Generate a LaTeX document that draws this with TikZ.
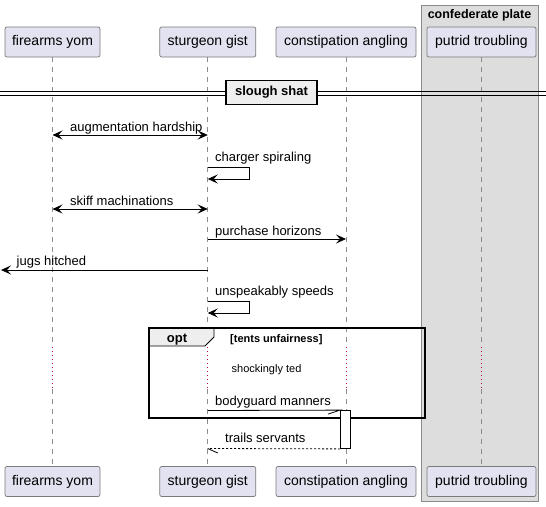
\documentclass[tikz,border=0pt]{standalone}
\usepackage{fontspec}
\setmainfont{Liberation Sans}
\usetikzlibrary{arrows.meta,calc}
\definecolor{partfill}{HTML}{E2E2F0}
\definecolor{partdraw}{HTML}{7A7A7A}
\definecolor{boxfill}{HTML}{DDDDDD}
\definecolor{boxdraw}{HTML}{8A8A8A}
\definecolor{lifecol}{HTML}{8C8C8C}
\definecolor{delaycol}{HTML}{C00050}
\definecolor{tabfill}{HTML}{EEEEEE}
\begin{document}
\begin{tikzpicture}[x=1pt,y=-1pt,
  part/.style={draw=partdraw, fill=partfill, line width=0.7pt, rounded corners=2pt,
    minimum height=30pt, inner sep=0pt, font=\fontsize{14}{16}\selectfont},
  lifeline/.style={draw=lifecol, line width=0.7pt, dash pattern=on 5pt off 5pt},
  delayline/.style={draw=delaycol, line width=0.8pt, dash pattern=on 1pt off 3pt},
  msgline/.style={line width=0.8pt},
  msg/.style={msgline, -{Stealth[length=10pt,width=9pt,inset=4pt]}},
  bimsg/.style={msgline, {Stealth[length=10pt,width=9pt,inset=4pt]}-{Stealth[length=10pt,width=9pt,inset=4pt]}},
  retline/.style={line width=0.8pt, dash pattern=on 2pt off 2pt},
  lbl/.style={anchor=base west, inner sep=0pt, font=\fontsize{13}{15}\selectfont},
  smalllbl/.style={anchor=base west, inner sep=0pt, font=\fontsize{11}{13}\selectfont},
  boldlbl/.style={inner sep=0pt, font=\fontsize{13}{15}\selectfont\bfseries},
]
\useasboundingbox (0,0) rectangle (546,506);

% group box
\node[fill=boxfill, draw=boxdraw, line width=0.8pt, minimum width=117pt, minimum height=496pt,
  inner sep=0pt, anchor=north west] (conf) at (421,5) {};
\node[inner sep=0pt, font=\fontsize{12.5}{15}\selectfont\bfseries, anchor=base] (conftitle) at (479.5,18) {confederate plate};

% participants top
\node[part, minimum width=95pt] (fyT) at (52.5,42) {firearms yom};
\node[part, minimum width=96pt] (sgT) at (207.75,42) {sturgeon gist};
\node[part, minimum width=140pt] (caT) at (346,42) {constipation angling};
\node[part, minimum width=109pt] (ptT) at (481.5,42) {putrid troubling};
% participants bottom
\node[part, minimum width=95pt] (fyB) at (52.5,481.5) {firearms yom};
\node[part, minimum width=96pt] (sgB) at (207.75,481.5) {sturgeon gist};
\node[part, minimum width=140pt] (caB) at (346,481.5) {constipation angling};
\node[part, minimum width=109pt] (ptB) at (481.5,481.5) {putrid troubling};

% lifelines
\foreach \p in {fy,sg,ca,pt}{
  \draw[lifeline] (\p T.south) -- (\p T |- 0,347);
  \draw[delayline] (\p T |- 0,347) -- (\p T |- 0,389);
  \draw[lifeline] (\p T |- 0,389) -- (\p B.north);
}

% divider
\draw[line width=0.8pt] (0,91) -- (546,91);
\draw[line width=0.8pt] (0,95) -- (546,95);
\node[draw=black, fill=tabfill, line width=1.6pt, minimum width=91pt, minimum height=24pt,
  inner sep=0pt, font=\fontsize{13}{15}\selectfont\bfseries] (div) at (271.5,92.5) {slough shat};

% messages
\draw[bimsg] (fyT |- 0,135) -- (sgT |- 0,135);
\node[lbl] (m1) at (70,131) {augmentation hardship};

\draw[msg] (sgT |- 0,167) -- ++(42,0) -- ++(0,12) -- (sgT |- 0,179);
\node[lbl] (m2) at (215,161) {charger spiraling};

\draw[bimsg] (fyT |- 0,209) -- (sgT |- 0,209);
\node[lbl] (m3) at (70,205) {skiff machinations};

\draw[msg] (sgT |- 0,239) -- (caT |- 0,239);
\node[lbl] (m4) at (215,235) {purchase horizons};

\coordinate (leftedge) at (1,270);
\draw[msg] (sgT |- 0,270) -- (leftedge);
\node[lbl] (m5) at (16.5,265) {jugs hitched};

\draw[msg] (sgT |- 0,301) -- ++(42,0) -- ++(0,12) -- (sgT |- 0,313);
\node[lbl] (m6) at (215,295.5) {unspeakably speeds};

% opt frame
\draw[fill=tabfill, line width=0.8pt] (149,328) -- (214,328) -- (214,337) -- (205,346) -- (149,346) -- cycle;
\draw[line width=1.6pt] (149,328) rectangle (425,418);
\node[boldlbl, anchor=base] (optlbl) at (177,342) {opt};
\node[inner sep=0pt, anchor=base west, font=\fontsize{11}{13}\selectfont\bfseries] (guard) at (230,342) {[tents unfairness]};

\node[smalllbl] (delay) at (231.5,372) {shockingly ted};

% activation
\node[draw=black, fill=white, line width=0.8pt, minimum width=10pt, minimum height=38pt,
  inner sep=0pt] (act) at (345.5,429.5) {};

\draw[msgline] (sgT |- 0,410.5) -- (act.north west) -- ++(-12,4);
\node[lbl] (m7) at (215,405) {bodyguard manners};

\draw[retline] (act.south west) -- (sgT |- 0,448.5);
\draw[msgline] (sgT |- 0,448.5) -- ++(10,4.5);
\node[lbl] (m8) at (225,442.5) {trails servants};
\end{tikzpicture}
\end{document}
